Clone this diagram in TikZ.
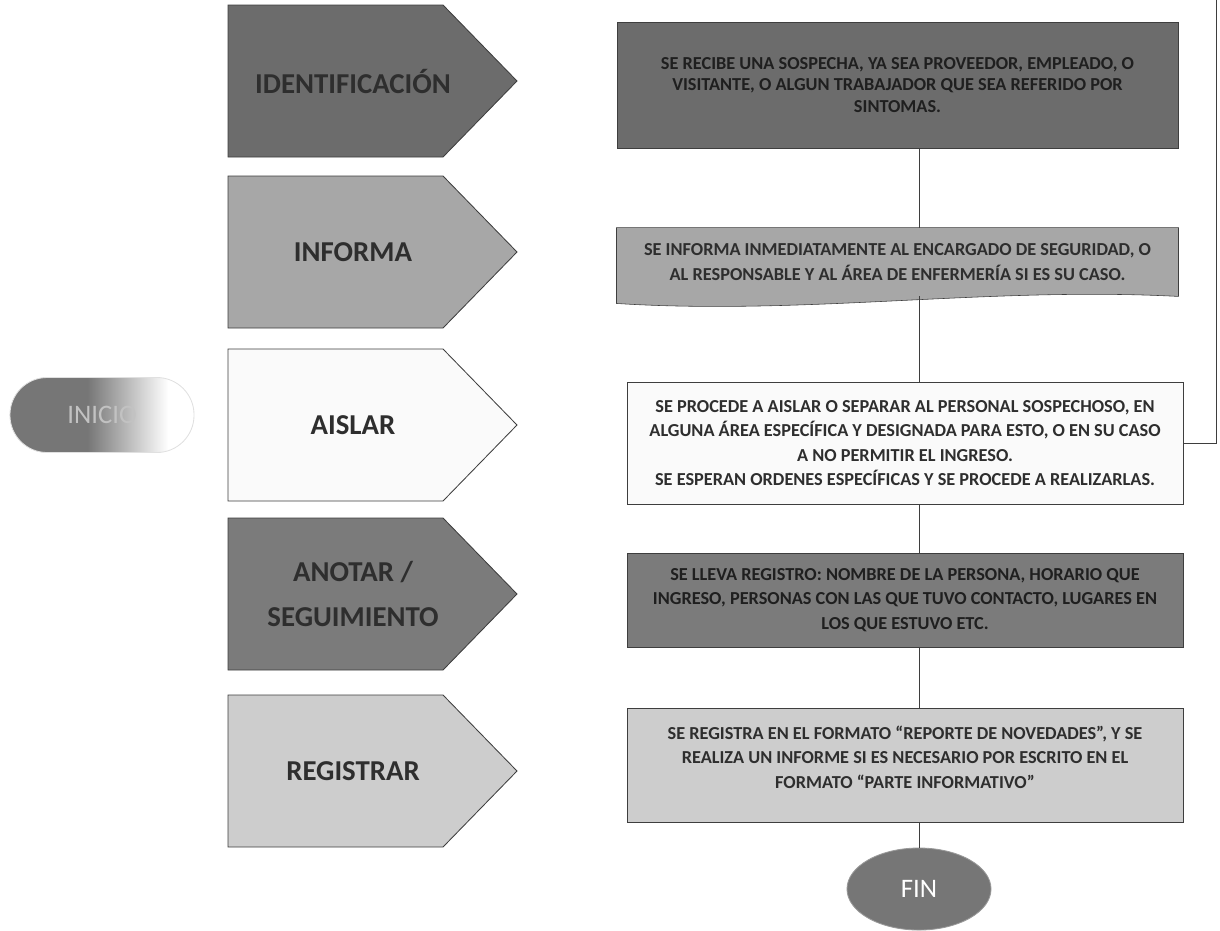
\documentclass[tikz,border=0pt]{standalone}
\usepackage{fontspec}
\setmainfont{Carlito}
\usetikzlibrary{shapes.geometric,backgrounds}

\definecolor{oscuro}{HTML}{6C6C6C}
\definecolor{oscurob}{HTML}{7B7B7B}
\definecolor{medio}{HTML}{A7A7A7}
\definecolor{claro}{HTML}{CDCDCD}
\definecolor{blanco}{HTML}{FAFAFA}
\definecolor{borde}{HTML}{3E3E3E}
\definecolor{texto}{HTML}{2E2E2E}
\definecolor{grisfin}{HTML}{767676}
\pgfdeclarehorizontalshading{iniciosombra}{100bp}{color(0bp)=(grisfin); color(46bp)=(grisfin); color(68bp)=(white); color(100bp)=(white)}

\begin{document}
\begin{tikzpicture}[x=0.025cm, y=-0.025cm, line width=0.6pt]

    \newcommand{\etapa}[4]{\draw[draw=borde, fill=#3] (228,#2-76) -- (443,#2-76) -- (517,#2) -- (443,#2+76) -- (228,#2+76) -- cycle; \node[etiq] (#1) at (353,#2) {#4}}

    \tikzstyle{etiq}=[font=\fontsize{20.5}{32}\selectfont\bfseries, text=texto, align=center]
    \tikzstyle{caja}=[draw=borde, inner sep=0pt, align=center, text=texto, font=\fontsize{13}{17.5}\selectfont\bfseries]
    \tikzstyle{conector}=[draw=borde]

    \useasboundingbox (0,0) rectangle (1220,930);

    % etapas de la izquierda
    \etapa{identificacion}{81}{oscuro}{IDENTIFICACIÓN};
    \etapa{informa}{252}{medio}{INFORMA};
    \etapa{aislar}{425}{blanco}{AISLAR};
    \etapa{anotar}{594}{oscurob}{ANOTAR /\\SEGUIMIENTO};
    \etapa{registrar}{771}{claro}{REGISTRAR};

    % inicio
    \node[shading=iniciosombra, rounded corners=0.93cm, draw=black!12, minimum width=4.6cm, minimum height=1.875cm,
          text=black!24, font=\fontsize{19}{21}\selectfont] (inicio) at (102,415) {INICIO};

    % cajas de la derecha
    \node[caja, fill=oscuro, minimum width=14.025cm, minimum height=3.15cm, font=\fontsize{13}{15.5}\selectfont\bfseries, text=black!88] (b1) at (897.5,85)
        {SE RECIBE UNA SOSPECHA, YA SEA PROVEEDOR, EMPLEADO, O\\VISITANTE, O ALGUN TRABAJADOR QUE SEA REFERIDO POR\\SINTOMAS.};
    \node[caja, draw=none, minimum width=14.025cm, minimum height=1.7cm] (b2) at (897.5,262)
        {SE INFORMA INMEDIATAMENTE AL ENCARGADO DE SEGURIDAD, O\\AL RESPONSABLE Y AL ÁREA DE ENFERMERÍA SI ES SU CASO.};
    \begin{scope}[on background layer]
        \draw[draw=borde, fill=medio] (b2.north west) -- (b2.north east) -- (b2.south east)
            .. controls +(-190,-10) and +(190,12) .. ([yshift=-5pt]b2.south west) -- cycle;
    \end{scope}
    \node[caja, fill=blanco, minimum width=13.9cm, minimum height=3.05cm] (b3) at (905,443)
        {SE PROCEDE A AISLAR O SEPARAR AL PERSONAL SOSPECHOSO, EN\\ALGUNA ÁREA ESPECÍFICA Y DESIGNADA PARA ESTO, O EN SU CASO\\A NO PERMITIR EL INGRESO.\\SE ESPERAN ORDENES ESPECÍFICAS Y SE PROCEDE A REALIZARLAS.};
    \node[caja, fill=oscurob, minimum width=13.9cm, minimum height=2.35cm, text=black!88] (b4) at (905,600)
        {SE LLEVA REGISTRO: NOMBRE DE LA PERSONA, HORARIO QUE\\INGRESO, PERSONAS CON LAS QUE TUVO CONTACTO, LUGARES EN\\LOS QUE ESTUVO ETC.};
    \node[caja, fill=claro, minimum width=13.9cm, minimum height=2.85cm] (b5) at (905,765)
        {SE REGISTRA EN EL FORMATO ``REPORTE DE NOVEDADES'', Y SE\\REALIZA UN INFORME SI ES NECESARIO POR ESCRITO EN EL\\FORMATO ``PARTE INFORMATIVO''\\[-6pt]};

    \node[ellipse, fill=grisfin, draw=black!40, minimum width=3.6cm, minimum height=2.05cm, text=white,
          font=\fontsize{19}{21}\selectfont] (fin) at (919,889) {FIN};

    % conectores
    \foreach \a/\b in {b1/b2, b2/b3, b3/b4, b4/b5} {
        \draw[conector] (\a.south -| fin.north) -- (\b.north -| fin.north);
    }
    \draw[conector] (b5.south -| fin.north) -- (fin.north);
    \coordinate (retorno) at (1216,0);
    \draw[conector] (b3.east) -| (retorno);

\end{tikzpicture}
\end{document}
